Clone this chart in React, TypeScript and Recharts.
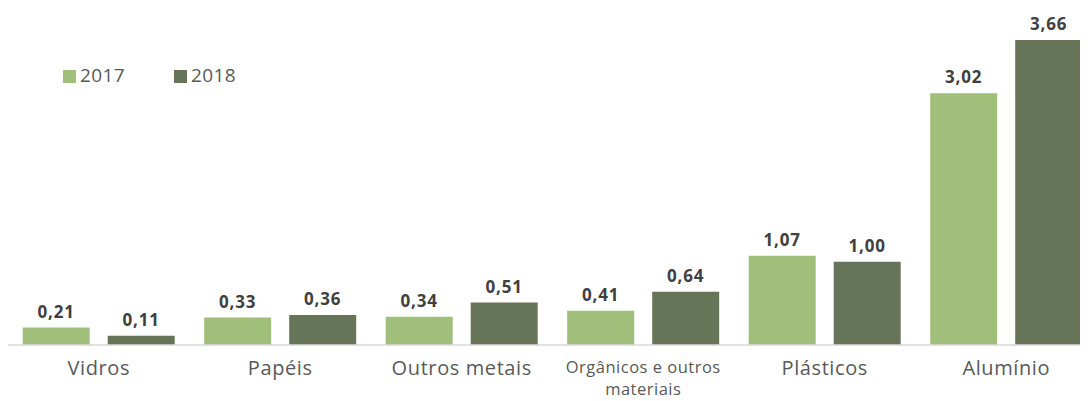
import React from 'react';
import { BarChart, Bar, XAxis, YAxis, LabelList } from 'recharts';

const categories = ['Vidros', 'Papéis', 'Outros metais', 'Orgânicos e outros materiais', 'Plásticos', 'Alumínio'];
const values2017 = [0.21, 0.33, 0.34, 0.41, 1.07, 3.02];
const values2018 = [0.11, 0.36, 0.51, 0.64, 1.0, 3.66];
const seriesNames = ['2017', '2018'];

const COLOR_2017 = '#9fbf7a';
const COLOR_2018 = '#667558';
const FONT = '"Open Sans", sans-serif';

const data = categories.map((name, i) => ({ name, y2017: values2017[i], y2018: values2018[i] }));

const fmt = (v: number) => v.toFixed(2).replace('.', ',');

// wrap long category names onto two lines
function wrap(text: string, max: number) {
  const words = text.split(' ');
  const lines: string[] = [];
  let cur = '';
  words.forEach(w => {
    const next = cur ? cur + ' ' + w : w;
    if (next.length > max && cur) {
      lines.push(cur);
      cur = w;
    } else cur = next;
  });
  if (cur) lines.push(cur);
  return lines;
}

function CategoryTick(props: any) {
  const { x, y, payload } = props;
  const lines = wrap(payload.value, 18);
  const multi = lines.length > 1;
  return (
    <text
      x={x}
      y={y}
      textAnchor="middle"
      fill="#595959"
      fontFamily={FONT}
      fontSize={multi ? 16.5 : 20}
      letterSpacing={multi ? 0.5 : 0.6}
    >
      {lines.map((l, i) => (
        <tspan key={i} x={x} dy={i === 0 ? (multi ? 20 : 22) : 22}>{l}</tspan>
      ))}
    </text>
  );
}

function LegendBox() {
  const colors = [COLOR_2017, COLOR_2018];
  return (
    <svg width={260} height={30} style={{ position: 'absolute', left: 0, top: 0 }}>
      {seriesNames.map((n, i) => (
        <g key={n} transform={`translate(${55 + i * 111}, 0)`}>
          <rect x={0} y={8} width={13} height={13} fill={colors[i]} />
          <text x={17} y={20} fontFamily={FONT} fontSize={19} letterSpacing={0.4} fill="#595959">{n}</text>
        </g>
      ))}
    </svg>
  );
}

const labelStyle = { fontFamily: FONT, fontSize: 17, fontWeight: 700, fill: '#404040', letterSpacing: 0.8 };

export default function App() {
  return (
    <div style={{ position: 'relative', width: 1080, height: 393, overflow: 'hidden', background: '#fff' }}>
      <BarChart
        width={1089}
        height={393}
        data={data}
        margin={{ top: 32, right: 0, left: 0, bottom: 6 }}
        barCategoryGap="8.1%"
        barGap={18}
      >
        <XAxis
          dataKey="name"
          height={50}
          tick={<CategoryTick />}
          tickLine={false}
          axisLine={{ stroke: '#d9d9d9', strokeWidth: 1.5 }}
          interval={0}
        />
        <YAxis hide domain={[0, 3.66]} allowDataOverflow />
        <Bar dataKey="y2017" name="2017" fill={COLOR_2017} isAnimationActive={false}>
          <LabelList dataKey="y2017" position="top" offset={10} formatter={(v: any) => fmt(Number(v))} style={labelStyle} />
        </Bar>
        <Bar dataKey="y2018" name="2018" fill={COLOR_2018} isAnimationActive={false}>
          <LabelList dataKey="y2018" position="top" offset={10} formatter={(v: any) => fmt(Number(v))} style={labelStyle} />
        </Bar>
      </BarChart>
      <div style={{ position: 'absolute', left: 0, top: 54 }}>
        <LegendBox />
      </div>
    </div>
  );
}
